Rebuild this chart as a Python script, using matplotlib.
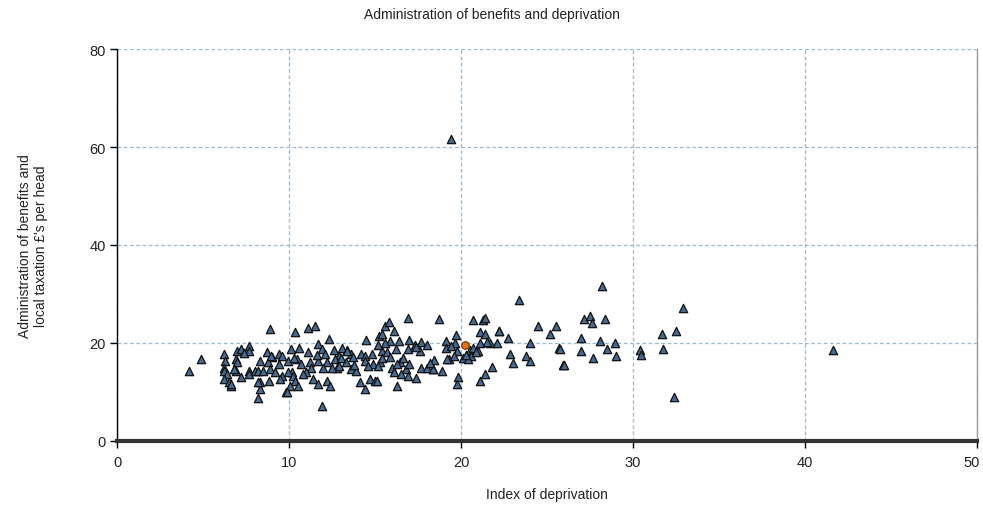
import matplotlib
matplotlib.use("Agg")
import matplotlib.pyplot as plt
import matplotlib.transforms as mtransforms

# Local authority areas: index of deprivation vs admin cost per head
deprivation = [
    4.2, 4.9, 6.2, 6.3, 6.2, 6.2, 6.4, 6.2, 6.5, 6.6, 6.9, 6.9, 7.0, 7.0, 6.8, 6.6,
    7.2, 7.7, 7.7, 7.2, 7.7, 7.7, 8.0, 8.2, 8.3, 8.7, 8.9, 9.0, 9.4, 9.6, 8.8, 8.9,
    8.5, 8.3, 8.3, 8.2, 8.85, 9.6, 9.5, 9.8, 8.95, 8.2, 9.2, 10.15,
    10.35, 11.1, 11.5, 12.3, 14.5, 15.6, 10.1, 10.6, 11.1, 11.7, 11.9, 12.1, 12.6, 12.9,
    13.1, 13.35, 13.6, 14.2, 14.4, 14.8, 15.4, 9.96, 10.45, 10.7, 11.2, 11.3, 11.7, 12.2,
    12.7, 12.8, 13.3, 13.6, 13.9, 14.4, 14.9, 15.3, 9.96, 10.25, 10.35, 10.05, 10.5, 11.0,
    11.4, 11.7, 12.2, 12.4, 11.9, 14.4, 14.7, 15.0, 9.9, 15.25, 13.0, 12.0, 13.8, 14.1,
    16.9, 18.7, 15.8, 16.1, 15.4, 15.9, 15.6, 16.4, 17.0, 17.7, 18.0, 17.3, 16.9, 17.6,
    16.2, 15.7, 15.2, 19.1, 19.7, 19.65, 19.1, 19.75, 20.5, 15.4, 15.9, 16.45, 16.65, 15.2,
    16.0, 16.3, 16.8, 17.0, 17.7, 18.45, 18.4, 18.9, 19.3, 19.6, 20.1, 16.1, 16.5, 16.9,
    17.4, 16.3, 15.1, 19.8, 19.75, 18.0, 18.4, 19.4,
    23.4, 20.7, 21.3, 21.4, 22.2, 21.1, 21.4, 22.75, 21.7, 22.1, 24.0, 24.5, 25.5, 25.2,
    25.7, 20.7, 21.0, 20.6, 20.4, 22.85, 23.05, 23.8, 24.0, 21.8, 21.4, 21.1, 25.95, 22.2,
    21.1, 21.5, 20.3, 19.2, 20.9,
    28.2, 32.9, 27.15, 27.5, 27.6, 28.4, 31.7, 32.5, 27.0, 28.1, 28.95, 25.75, 27.0, 28.5,
    29.0, 27.7, 26.0, 30.4, 30.45, 31.75, 32.4, 41.65, 19.4,
    11.6, 12.9, 13.7, 14.6, 10.8, 9.4, 7.4, 10.3, 12.5, 13.4, 17.4, 18.2,
]
admin_cost = [
    14.3, 16.7, 17.8, 16.4, 15.0, 14.3, 13.7, 12.7, 12.0, 11.3, 16.7, 14.3, 18.4, 16.1, 14.7, 11.6,
    18.8, 19.4, 18.4, 13.0, 14.3, 13.7, 14.3, 14.3, 16.4, 18.1, 22.9, 17.1, 17.8, 17.4, 16.1, 14.7,
    14.3, 12.0, 10.6, 8.7, 12.3, 13.3, 12.7, 9.9, 17.4, 12.1, 14.0, 14.0,
    22.3, 23.0, 23.5, 20.8, 20.7, 23.5, 18.8, 18.9, 18.2, 19.8, 18.8, 17.8, 18.6, 17.4,
    18.9, 18.6, 17.8, 17.8, 17.4, 17.8, 18.4, 16.4, 16.7, 15.7, 16.1, 15.0, 16.4, 16.1,
    16.7, 15.0, 16.1, 14.7, 14.3, 16.4, 15.7, 16.1, 14.0, 13.3, 12.3, 11.3, 11.3, 14.0,
    12.7, 11.6, 12.3, 11.2, 7.2, 10.7, 12.7, 12.3, 9.9, 21.4, 17.0, 14.8, 15.5, 12.0,
    25.2, 24.8, 24.3, 22.4, 21.8, 20.5, 20.1, 20.5, 20.7, 20.3, 19.5, 19.5, 18.8, 18.4,
    18.8, 18.1, 19.5, 20.5, 21.6, 20.1, 18.9, 18.4, 18.6, 16.9, 17.1, 16.1, 16.9, 15.4,
    15.0, 15.7, 14.7, 15.7, 15.0, 16.6, 14.7, 14.3, 16.7, 17.4, 16.9, 14.1, 13.7, 13.2,
    12.8, 11.3, 12.3, 13.0, 11.6, 15.0, 14.7, 61.6,
    28.8, 24.6, 24.6, 25.2, 22.5, 22.2, 21.8, 21.0, 20.1, 20.1, 20.0, 23.4, 23.4, 21.8,
    18.9, 18.9, 18.4, 17.4, 16.7, 17.8, 15.9, 17.4, 16.4, 15.2, 13.7, 12.3, 15.5, 22.4,
    20.1, 20.2, 17.6, 16.7, 18.2,
    31.6, 27.1, 24.9, 25.6, 24.1, 24.9, 21.8, 22.5, 21.0, 20.5, 20.0, 18.8, 18.4, 18.8,
    17.4, 16.9, 15.5, 18.6, 17.5, 18.8, 8.9, 18.6, 19.4,
    17.6, 15.4, 17.1, 15.3, 13.6, 15.8, 17.9, 16.9, 14.9, 18.3, 19.2, 15.9,
]

# Highlighted area
selected_x = [20.25]
selected_y = [19.5]

x_ticks = [0, 10, 20, 30, 40, 50]
y_ticks = [0, 20, 40, 60, 80]

plt.rcParams["font.family"] = ["Liberation Sans", "DejaVu Sans"]

fig = plt.figure(figsize=(9.83, 5.06), dpi=100)
ax = fig.add_axes([117 / 983, 1 - 442 / 506, 860 / 983, 392 / 506])

n = min(len(deprivation), len(admin_cost))
ax.scatter(deprivation[:n], admin_cost[:n], marker="^", s=36,
           facecolor="#46698f", edgecolor="#111111", linewidths=0.9, zorder=3)
ax.scatter(selected_x, selected_y, marker="o", s=30,
           facecolor="#e8720c", edgecolor="#6a3000", linewidths=0.8, zorder=4)

ax.set_xlim(0, 50)
ax.set_ylim(0, 80)
ax.set_xticks(x_ticks)
ax.set_yticks(y_ticks)
ax.tick_params(axis="both", direction="out", length=5, width=1, color="black",
               labelsize=10.5, labelcolor="#222222")
ax.tick_params(axis="x", pad=5)
ax.tick_params(axis="y", pad=3)

# keep the last x tick label inside the figure edge
last_label = ax.get_xticklabels()[-1]
last_label.set_transform(last_label.get_transform() +
                         mtransforms.ScaledTranslation(-5 / 100, 0, fig.dpi_scale_trans))

ax.grid(True, color="#9fbad0", linestyle=(0, (3, 2)), linewidth=0.9, zorder=0)
ax.set_axisbelow(True)

ax.spines["top"].set_visible(False)
ax.spines["left"].set_color("black")
ax.spines["left"].set_linewidth(1.0)
ax.spines["right"].set_color("#9a9a9a")
ax.spines["right"].set_linewidth(1.0)
ax.spines["bottom"].set_color("#333333")
ax.spines["bottom"].set_linewidth(3.0)

fig.text(0.5, 1 - 15 / 506, "Administration of benefits and deprivation",
         ha="center", va="center", fontsize=10, color="#222222")
fig.text((117 + 430) / 983, 1 - 495 / 506, "Index of deprivation",
         ha="center", va="center", fontsize=10, color="#222222")
fig.text(33 / 983, 1 - 246 / 506,
         "Administration of benefits and\nlocal taxation £'s per head",
         ha="center", va="center", rotation=90, fontsize=10, color="#222222",
         linespacing=1.2)

fig.savefig("out.png", dpi=100)
